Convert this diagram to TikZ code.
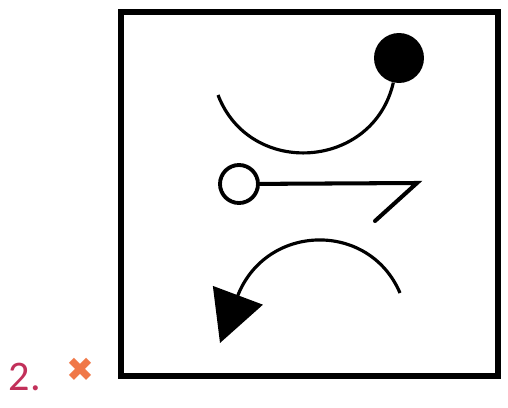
\documentclass[tikz,border=0pt]{standalone}
\usepackage{fontspec}
\setmainfont{Carlito}
\newfontfamily\symbolfont{DejaVu Sans}
\usetikzlibrary{arrows.meta}
\definecolor{GlyphInk}{HTML}{000000}
\definecolor{GlyphNumber}{HTML}{C2305A}
\definecolor{GlyphMark}{HTML}{F07848}
\tikzset{
  glyph frame/.style={draw=GlyphInk, line width=3.4pt},
  glyph arc/.style={draw=GlyphInk, line width=1.8pt},
  glyph bar/.style={draw=GlyphInk, line width=2.3pt},
  glyph dot/.style={circle, fill=GlyphInk, minimum size=1cm, inner sep=0pt},
  glyph ring/.style={circle, draw=GlyphInk, fill=white, line width=2.2pt, minimum size=.76cm, inner sep=0pt},
  glyph pointer/.style={glyph arc, -{Triangle[length=29pt,width=30pt]}},
  glyph number/.style={font=\fontsize{24}{28}\selectfont, text=GlyphNumber, inner sep=0pt},
  glyph mark/.style={font=\symbolfont\fontsize{19}{21}\selectfont, text=GlyphMark, inner sep=0pt},
}

\begin{document}
\begin{tikzpicture}[x=.02cm,y=.02cm]
  \useasboundingbox (0,0) rectangle (508,407);

  \draw[glyph frame] (121,31) rectangle (498,395);

  \node[glyph dot] (dot) at (399,349) {};
  \coordinate (upstart) at (218,312);
  \draw[glyph arc] (upstart) to[out=291, in=257, looseness=1.3] (dot);

  \node[glyph ring] (ring) at (239,223) {};
  \coordinate (bend) at (417,224);
  \coordinate (hook) at (375,186);
  \draw[glyph bar, line cap=round] (ring) -- (bend) -- (hook);

  \coordinate (lowstart) at (400,114);
  \coordinate (lowend) at (238,112);
  \coordinate (tip) at (220,64);
  \draw[glyph pointer] (lowstart) to[out=113, in=68, looseness=1.23] (lowend) -- (tip);

  \node[glyph number, anchor=center] (number) at (25,30) {2.};
  \node[glyph mark, anchor=center] (mark) at (80,37) {✖};
\end{tikzpicture}
\end{document}
